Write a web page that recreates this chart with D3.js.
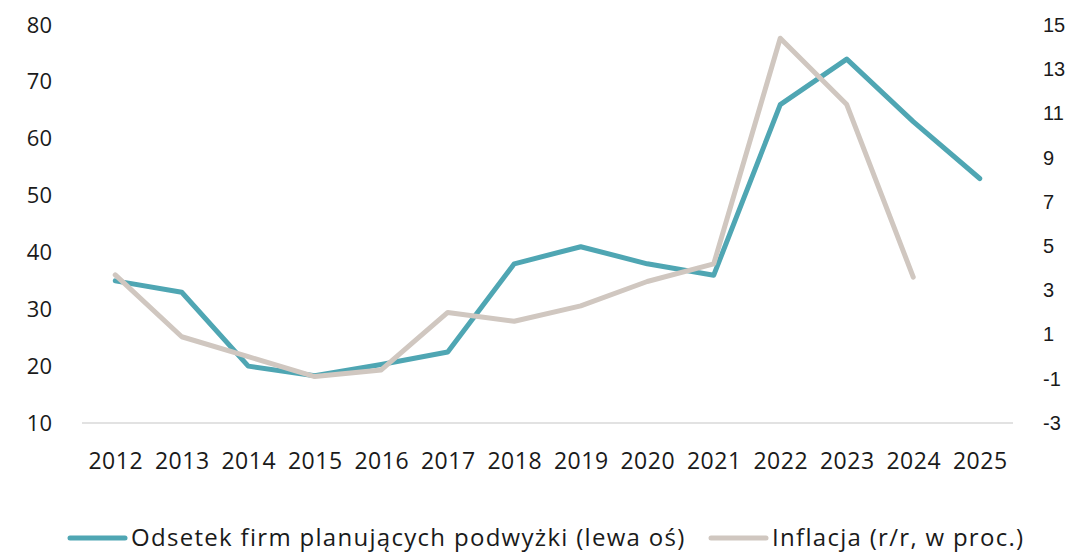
<!DOCTYPE html>
<html>
<head>
<meta charset="utf-8">
<script src="https://cdn.jsdelivr.net/npm/d3@7"></script>
<style>
  body { margin: 0; background: #fff; }
  text { fill: #1a1a1a; }
</style>
</head>
<body>
<div id="canvas"></div>
<script>
const years = ["2012","2013","2014","2015","2016","2017","2018","2019","2020","2021","2022","2023","2024","2025"];
const firmy = [35, 33, 20, 18.3, 20.3, 22.5, 38, 41, 38, 36, 66, 74, 63, 53];
const inflacja = [3.7, 0.9, 0.0, -0.9, -0.6, 2.0, 1.6, 2.3, 3.4, 4.2, 14.4, 11.4, 3.6, null];
const leftTicks = [10, 20, 30, 40, 50, 60, 70, 80];
const rightTicks = [-3, -1, 1, 3, 5, 7, 9, 11, 13, 15];
const legendNames = ["Odsetek firm planujących podwyżki (lewa oś)", "Inflacja (r/r, w proc.)"];

const width = 1073;
const height = 553;

const svg = d3.select("#canvas").append("svg")
  .attr("width", width)
  .attr("height", height);

const x = d3.scalePoint().domain(years).range([82, 1013]).padding(0.5);
const yL = d3.scaleLinear().domain([10, 80]).range([423, 25]);
const yR = d3.scaleLinear().domain([-3, 15]).range([423, 25]);

const teal = "#4fa6b3";
const beige = "#d0c7c0";
const mainFont = "'Open Sans', Lato, sans-serif";

// baseline
svg.append("line")
  .attr("x1", 82).attr("x2", 1013)
  .attr("y1", yL(10)).attr("y2", yL(10))
  .attr("stroke", "#d9d9d9")
  .attr("stroke-width", 1.5);

// left axis
const gl = svg.append("g")
  .attr("transform", "translate(52,0)")
  .call(d3.axisLeft(yL).tickValues(leftTicks).tickSize(0).tickPadding(0));
gl.select(".domain").remove();
gl.selectAll("text").style("font-family", mainFont).style("font-size", "22px");

// right axis
const gr = svg.append("g")
  .attr("transform", "translate(1043,0)")
  .call(d3.axisRight(yR).tickValues(rightTicks).tickFormat((d) => String(d)).tickSize(0).tickPadding(0));
gr.select(".domain").remove();
gr.selectAll("text").style("font-family", "'Liberation Sans', Arial, sans-serif").style("font-size", "20px");

// x axis
const gx = svg.append("g")
  .attr("transform", "translate(0,453)")
  .call(d3.axisBottom(x).tickSize(0).tickPadding(0));
gx.select(".domain").remove();
gx.selectAll("text")
  .style("font-family", mainFont)
  .style("font-size", "23px")
  .style("letter-spacing", "0.5px")
  .attr("dy", "0.71em");

// lines
const lineL = d3.line().x((d, i) => x(years[i])).y((d) => yL(d));
const lineR = d3.line().defined((d) => d !== null).x((d, i) => x(years[i])).y((d) => yR(d));

svg.append("path")
  .datum(firmy)
  .attr("fill", "none")
  .attr("stroke", teal)
  .attr("stroke-width", 5)
  .attr("stroke-linejoin", "round")
  .attr("stroke-linecap", "round")
  .attr("d", lineL);

svg.append("path")
  .datum(inflacja)
  .attr("fill", "none")
  .attr("stroke", beige)
  .attr("stroke-width", 5)
  .attr("stroke-linejoin", "round")
  .attr("stroke-linecap", "round")
  .attr("d", lineR);

// legend
const legend = [
  { name: legendNames[0], color: teal, x: 70 },
  { name: legendNames[1], color: beige, x: 711 }
];
legend.forEach((l) => {
  svg.append("line")
    .attr("x1", l.x).attr("x2", l.x + 55)
    .attr("y1", 538).attr("y2", 538)
    .attr("stroke", l.color)
    .attr("stroke-width", 5)
    .attr("stroke-linecap", "round");
  svg.append("text")
    .attr("x", l.x + 61)
    .attr("y", 538)
    .attr("dy", "0.35em")
    .style("font-family", mainFont)
    .style("font-size", "24px")
    .style("letter-spacing", "1.3px")
    .text(l.name);
});
</script>
</body>
</html>
